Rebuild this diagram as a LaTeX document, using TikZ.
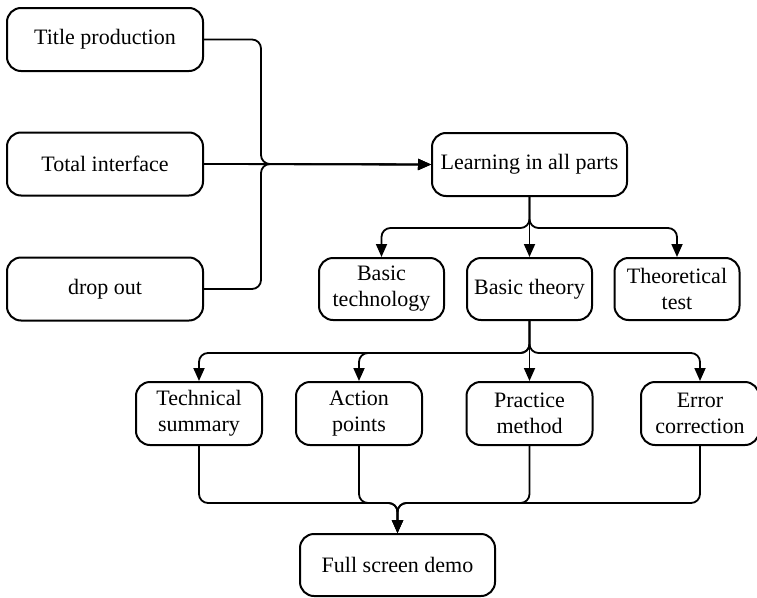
\documentclass[tikz,border=0pt]{standalone}
\usepackage{fontspec}
\setmainfont{Liberation Serif}
\usetikzlibrary{arrows.meta}

\begin{document}
\begin{tikzpicture}[x=1pt, y=-1pt,
	box/.style={draw, rounded corners=14pt, line width=2pt, align=center,
		inner sep=0pt, font=\fontsize{22}{26}\selectfont},
	wide/.style={box, minimum width=196pt, minimum height=63pt},
	small/.style={box, minimum width=125pt, minimum height=62pt},
	link/.style={line width=1.8pt, rounded corners=9pt},
	>={Triangle[length=13pt, width=11pt]}]
	\useasboundingbox (0,0) rectangle (757,597);
	% left column
	\node[wide] (tp) at (105,39.5) {Title production};
	\node[wide] (ti) at (105,164) {Total interface};
	\node[wide] (dr) at (105,289) {drop out};
	% upper tree
	\node[wide, minimum width=195pt] (la) at (529.5,164.5) {Learning in all parts};
	\node[small] (bte) at (381.5,289) {Basic\\technology};
	\node[small] (bth) at (529.5,289) {Basic theory};
	\node[small] (tt) at (677,289) {Theoretical\\test};
	% lower tree
	\node[small, minimum width=126pt, minimum height=63pt] (ts) at (199,413.5) {Technical\\summary};
	\node[small, minimum width=126pt, minimum height=63pt] (ap) at (359,413.5) {Action\\points};
	\node[small, minimum width=126pt, minimum height=63pt] (pm) at (529.5,413.5) {Practice\\method};
	\node[small, minimum width=118pt, minimum height=63pt] (ec) at (700,413.5) {Error\\correction};
	\node[wide, minimum width=195pt, minimum height=62pt] (fs) at (397.5,565) {Full screen demo};
	% junctions
	\coordinate (jl) at (261,164);
	\coordinate (jb) at (529.5,228);
	\coordinate (jc) at (529.5,353);
	\coordinate (jd) at (397.5,503);
	% connectors
	\draw[link, ->] (ti.east) -- (la.west);
	\draw[link, ->] (tp.east) -| (jl) -- (la.west);
	\draw[link, ->] (dr.east) -| (jl) -- (la.west);
	\draw[link, ->] (la.south) -- (jb) -| (bte.north);
	\draw[link, ->] (la.south) -- (bth.north);
	\draw[link, ->] (la.south) -- (jb) -| (tt.north);
	\draw[link, ->] (bth.south) -- (jc) -| (ts.north);
	\draw[link, ->] (bth.south) -- (jc) -| (ap.north);
	\draw[link, ->] (bth.south) -- (pm.north);
	\draw[link, ->] (bth.south) -- (jc) -| (ec.north);
	\foreach \src in {ts, ap, pm, ec}
		\draw[link, ->] (\src.south) |- (jd) -- (fs.north);
\end{tikzpicture}
\end{document}
